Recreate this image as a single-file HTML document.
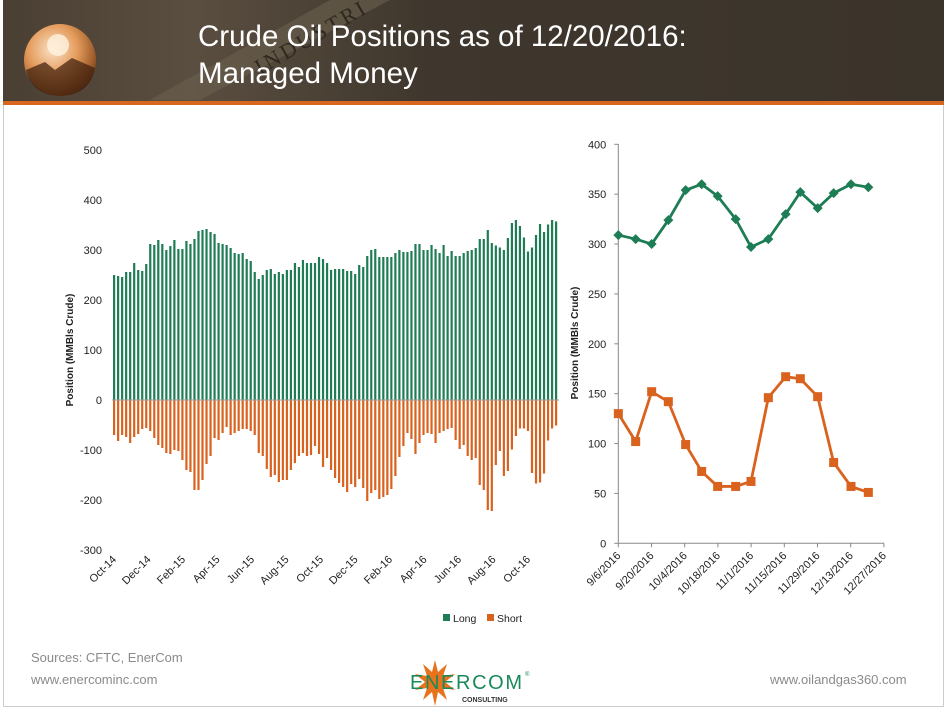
<!DOCTYPE html>
<html><head><meta charset="utf-8"><style>
body{margin:0;width:947px;height:712px;background:#fff;overflow:hidden;font-family:"Liberation Sans",sans-serif;position:relative}
.hdr{position:absolute;left:3px;top:0;width:941px;height:101px;background:linear-gradient(90deg,#4a3f33 0%,#5a4e40 20%,#3f372d 45%,#3b342b 100%)}
.stripe{position:absolute;left:3px;top:101px;width:941px;height:4px;background:#d9661f}
.title{position:absolute;left:198px;top:18px;color:#fff;font-size:29.5px;line-height:37px;font-family:"Liberation Sans",sans-serif;letter-spacing:0px}
.frame{position:absolute;left:3px;top:105px;width:939px;height:601px;border:1px solid #ccc;border-top:none}
.ft{position:absolute;color:#8a8a8a;font-size:13px}
</style></head><body>
<div class="hdr"></div>
<svg style="position:absolute;left:0;top:0" width="470" height="100">
<path d="M150 100 L330 0 L390 0 L200 100Z" fill="#6b604f" opacity="0.6"/>
<text x="260" y="75" transform="rotate(-30 260 75)" fill="#2e2820" font-size="22" font-family="Liberation Serif" letter-spacing="3">INDUSTRI</text>
<defs><radialGradient id="g" cx="0.4" cy="0.35" r="0.7"><stop offset="0" stop-color="#fbe2c8"/><stop offset="0.5" stop-color="#e39a5a"/><stop offset="1" stop-color="#7a3d14"/></radialGradient></defs>
<circle cx="60" cy="60" r="36" fill="url(#g)"/>
<path d="M26 70 L45 62 L55 70 L72 58 L95 68 Q90 95 60 96 Q32 95 26 70Z" fill="#3a1d0c" opacity="0.7"/>
<circle cx="58" cy="45" r="11" fill="#fff3e0" opacity="0.8"/>
</svg>
<div class="stripe"></div>
<div class="title">Crude Oil Positions as of 12/20/2016:<br>Managed Money</div>
<div class="frame"></div>
<svg id="c" style="position:absolute;left:0;top:0" width="947" height="712" font-family="Liberation Sans, sans-serif"></svg>
<div class="ft" style="left:31px;top:650px">Sources: CFTC, EnerCom</div>
<div class="ft" style="left:31px;top:672px">www.enercominc.com</div>
<div class="ft" style="left:770px;top:672px">www.oilandgas360.com</div>
<svg style="position:absolute;left:405px;top:658px" width="140" height="50">
<polygon points="30,2 33,14 42,6 38,18 50,16 40,24 50,32 38,30 42,42 33,34 30,48 27,34 18,42 22,30 10,32 20,24 10,16 22,18 18,6 27,14" fill="#e8731c"/>
<text x="5" y="31" font-size="20" fill="#1a8a5a" font-family="Liberation Sans" textLength="112">ENERCOM</text>
<text x="120" y="18" font-size="6" fill="#1a8a5a">®</text>
<text x="57" y="44" font-size="7" font-weight="bold" fill="#333">CONSULTING</text>
</svg>
<script>
const s=document.getElementById('c');let h='';
const L0=[405,408,405,408,411,396,396,369,390,393,372,312,315,300,312,330,318,300,327,327,303,312,297,273,270,267,276,282,309,312,315,324,339,342,339,357,363,396,417,405,390,387,402,396,402,390,390,369,381,360,369,369,369,351,357,369,390,387,387,387,393,393,402,375,381,348,330,327,351,351,351,351,339,330,336,336,333,312,312,330,330,315,327,339,315,348,333,348,348,339,333,330,324,297,297,270,309];
const S0=[885,903,885,891,909,891,882,867,864,873,894,915,924,939,942,930,933,960,990,996,1050,1050,1020,972,948,894,900,879,861,885,879,873,867,867,873,885,939,948,987,1011,1005,1026,1020,1020,990,969,948,939,948,945,918,942,981,954,990,1014,1029,1041,1056,1032,1041,1017,1044,1083,1059,1050,1077,1071,1065,1047,1008,951,918,879,897,942,909,885,879,882,909,879,873,867,864,900,927,915,948,960,954,1035,1050,1110,1113];
const G=[309,305,300,324,354,360,348,325,297,305,330,352,336,351,360,357];
const O=[130,102,152,142,99,72,57,57,62,146,167,165,147,81,57,51];
let Lv=L0.map(y=>(780-y)/1.5).concat(G), Sv=S0.map(y=>(780-y)/1.5).concat(O.map(v=>-v));
const N=Math.min(Lv.length,Sv.length);
Lv=Lv.slice(Lv.length-N);Sv=Sv.slice(Sv.length-N);
const x0=114,x1=556;const dx=(x1-x0)/(N-1);
for(let i=0;i<N;i++){const x=x0+i*dx;const ly=400-Lv[i]/2, sy=400-Sv[i]/2;
h+=`<rect x="${x-1}" y="${ly}" width="2.2" height="${400-ly}" fill="#1e7d55"/>`;
h+=`<rect x="${x-1}" y="400" width="2.2" height="${sy-400}" fill="#d9621e"/>`;}
h+=`<line x1="112" y1="400" x2="559" y2="400" stroke="#999" stroke-width="1"/>`;
for(let v=-300;v<=500;v+=100){h+=`<text x="102" y="${400-v/2+4}" font-size="11" text-anchor="end" fill="#222">${v}</text>`;}
const mo=['Oct-14','Dec-14','Feb-15','Apr-15','Jun-15','Aug-15','Oct-15','Dec-15','Feb-16','Apr-16','Jun-16','Aug-16','Oct-16'];
mo.forEach((m,i)=>{const x=117+i*34.5;h+=`<text x="${x}" y="560" font-size="11" text-anchor="end" transform="rotate(-45 ${x} 560)" fill="#222">${m}</text>`;});
h+=`<text transform="translate(73 350) rotate(-90)" font-size="10" font-weight="bold" text-anchor="middle" fill="#222">Position (MMBls Crude)</text>`;
h+=`<rect x="443" y="614" width="7" height="7" fill="#1e7d55"/><text x="453" y="622" font-size="10.5" fill="#222">Long</text>`;
h+=`<rect x="487" y="614" width="7" height="7" fill="#d9621e"/><text x="497" y="622" font-size="10.5" fill="#222">Short</text>`;
const ax=618.3,ay0=543.3,k=399/400;
h+=`<line x1="${ax}" y1="144" x2="${ax}" y2="${ay0}" stroke="#888"/><line x1="${ax}" y1="${ay0}" x2="884" y2="${ay0}" stroke="#888"/>`;
for(let v=0;v<=400;v+=50){const y=ay0-v*k;h+=`<line x1="${ax-4}" y1="${y}" x2="${ax}" y2="${y}" stroke="#888"/><text x="${ax-12}" y="${y+4}" font-size="11" text-anchor="end" fill="#222">${v}</text>`;}
const dl=['9/6/2016','9/20/2016','10/4/2016','10/18/2016','11/1/2016','11/15/2016','11/29/2016','12/13/2016','12/27/2016'];
dl.forEach((d,i)=>{const x=ax+i*33.2;h+=`<line x1="${x}" y1="${ay0}" x2="${x}" y2="${ay0+4}" stroke="#888"/><text x="${x+3}" y="${ay0+13}" font-size="11" text-anchor="end" transform="rotate(-45 ${x+3} ${ay0+13})" fill="#222">${d}</text>`;});
h+=`<text transform="translate(578 343) rotate(-90)" font-size="10" font-weight="bold" text-anchor="middle" fill="#222">Position (MMBls Crude)</text>`;
const zx=[175,227,275,325,377,425,473,527,573,625,677,721,773,821,873,925].map(z=>560+z/3);
const pg=zx.map((x,i)=>x+','+(ay0-G[i]*k)).join(' '),po=zx.map((x,i)=>x+','+(ay0-O[i]*k)).join(' ');
h+=`<polyline points="${pg}" fill="none" stroke="#1e7d55" stroke-width="2.8"/><polyline points="${po}" fill="none" stroke="#d9621e" stroke-width="2.8"/>`;
zx.forEach((x,i)=>{const y=ay0-G[i]*k;h+=`<polygon points="${x},${y-5} ${x+5},${y} ${x},${y+5} ${x-5},${y}" fill="#1e7d55"/>`;const yo=ay0-O[i]*k;h+=`<rect x="${x-4.5}" y="${yo-4.5}" width="9" height="9" fill="#d9621e"/>`;});
s.innerHTML=h;
</script>
</body></html>
